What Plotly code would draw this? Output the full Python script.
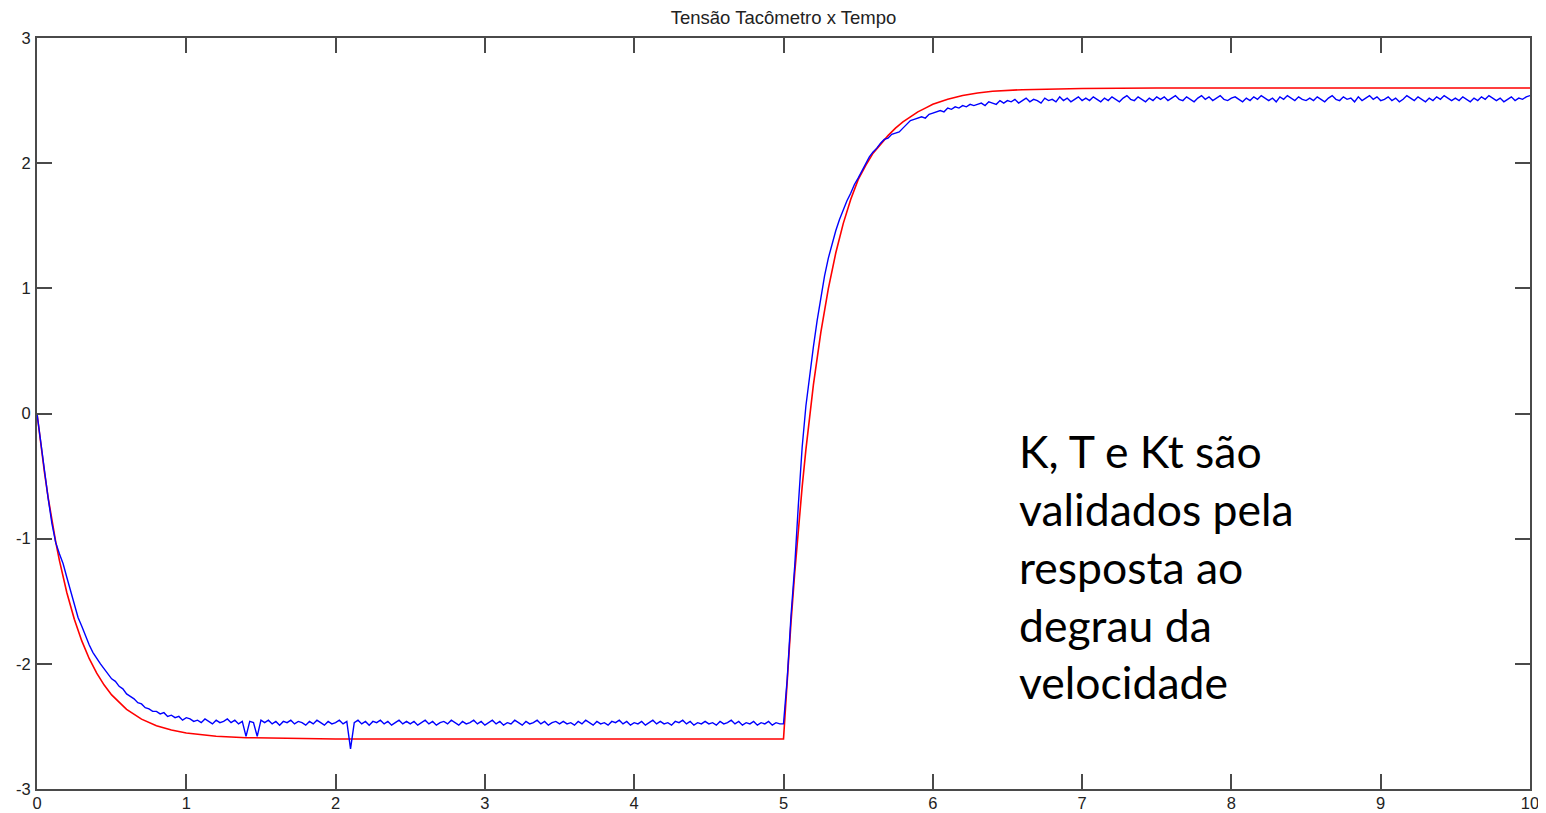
import plotly.graph_objects as go

# ---------------- data ----------------
title_text = "Tensão Tacômetro x Tempo"
note_lines = ["K, T e Kt são", "validados pela", "resposta ao", "degrau da", "velocidade"]

x_ticks = [0, 1, 2, 3, 4, 5, 6, 7, 8, 9, 10]
y_ticks = [-3, -2, -1, 0, 1, 2, 3]

# red: model response
red_t = [0, 0.025, 0.05, 0.075, 0.10, 0.125, 0.15, 0.175, 0.20, 0.25, 0.30, 0.35, 0.40,
         0.45, 0.50, 0.60, 0.70, 0.80, 0.90, 1.00, 1.20, 1.40, 1.70, 2.00, 5.00,
         5.01, 5.02, 5.035, 5.05, 5.075, 5.10, 5.125, 5.15, 5.175, 5.20, 5.25, 5.30,
         5.35, 5.40, 5.45, 5.50, 5.55, 5.60, 5.65, 5.70, 5.75, 5.80, 5.85, 5.90, 5.95,
         6.00, 6.10, 6.20, 6.30, 6.40, 6.60, 6.80, 7.00, 7.50, 10.0]
red_v = [0.0, -0.247, -0.471, -0.674, -0.857, -1.023, -1.173, -1.309, -1.432, -1.643,
         -1.817, -1.959, -2.075, -2.170, -2.248, -2.364, -2.442, -2.494, -2.529, -2.552,
         -2.579, -2.590, -2.597, -2.600, -2.600,
         -2.400, -2.208, -1.935, -1.674, -1.275, -0.914, -0.586, -0.288, -0.018, 0.226,
         0.648, 0.996, 1.282, 1.517, 1.710, 1.868, 1.98, 2.08, 2.15, 2.22, 2.28, 2.33,
         2.37, 2.41, 2.44, 2.47, 2.51, 2.54, 2.56, 2.575, 2.587, 2.594, 2.597, 2.600, 2.600]

# blue: measured tachometer voltage, sampled every 0.025 s
blue_dt = 0.025
blue_fall = [0.00, -0.24, -0.47, -0.68, -0.88, -1.03, -1.12, -1.20, -1.31, -1.42,
             -1.53, -1.63, -1.70, -1.78, -1.85, -1.91, -1.96, -2.00, -2.04, -2.08,
             -2.12, -2.14, -2.18, -2.20, -2.24, -2.26, -2.28, -2.31, -2.32, -2.35,
             -2.36, -2.38, -2.38, -2.40, -2.39, -2.42, -2.41, -2.43, -2.42, -2.45,
             -2.43]
blue_low = [-2.44, -2.46, -2.45, -2.47, -2.44, -2.46, -2.48, -2.45, -2.47, -2.46,
            -2.44, -2.47, -2.45, -2.48, -2.46, -2.58, -2.46, -2.47, -2.58, -2.45,
            -2.47, -2.45, -2.48, -2.46, -2.49, -2.46, -2.47, -2.45, -2.48, -2.46,
            -2.47, -2.49, -2.46, -2.48, -2.45, -2.47, -2.49, -2.46, -2.48, -2.47,
            -2.45, -2.48, -2.46, -2.68, -2.47, -2.45, -2.48, -2.46, -2.49, -2.46,
            -2.47, -2.45, -2.48, -2.46, -2.49, -2.47, -2.45, -2.48, -2.46, -2.48,
            -2.46, -2.49, -2.47, -2.45, -2.48, -2.46, -2.49, -2.47, -2.46, -2.48,
            -2.45, -2.47, -2.49, -2.46, -2.48, -2.47, -2.45, -2.48, -2.46, -2.49,
            -2.47, -2.45, -2.48, -2.46, -2.49, -2.47, -2.48, -2.45, -2.47, -2.49,
            -2.46, -2.48, -2.47, -2.45, -2.48, -2.46, -2.49, -2.47, -2.46, -2.48,
            -2.46, -2.48, -2.47, -2.49, -2.46, -2.48, -2.45, -2.47, -2.49, -2.46,
            -2.48, -2.47, -2.49, -2.46, -2.47, -2.45, -2.48, -2.46, -2.49, -2.47,
            -2.48, -2.46, -2.49, -2.47, -2.45, -2.48, -2.46, -2.48, -2.47, -2.49,
            -2.46, -2.47, -2.45, -2.48, -2.46, -2.49, -2.47, -2.48, -2.46, -2.48,
            -2.47, -2.49, -2.46, -2.48, -2.47, -2.45, -2.48, -2.46, -2.49, -2.47,
            -2.48, -2.46, -2.49, -2.47, -2.48, -2.46, -2.49, -2.47, -2.48]
blue_rise = [-2.48, -2.12, -1.62, -1.22, -0.72, -0.27, 0.06, 0.32, 0.53, 0.74,
             0.94, 1.10, 1.24, 1.36, 1.46, 1.55, 1.63, 1.70, 1.76, 1.83,
             1.88, 1.94, 2.00, 2.05, 2.09, 2.12, 2.16, 2.19, 2.20, 2.23,
             2.24, 2.25, 2.28, 2.31, 2.34, 2.35, 2.36, 2.37, 2.36, 2.39,
             2.40, 2.41, 2.42, 2.41, 2.44, 2.43, 2.45, 2.44, 2.46, 2.45,
             2.47, 2.46, 2.47, 2.48, 2.46, 2.49, 2.48, 2.47, 2.50, 2.48,
             2.50]
blue_high = [2.49, 2.51, 2.48, 2.50, 2.52, 2.49, 2.51, 2.50, 2.48, 2.52,
             2.50, 2.51, 2.49, 2.53, 2.50, 2.52, 2.49, 2.51, 2.53, 2.50,
             2.52, 2.50, 2.53, 2.51, 2.49, 2.52, 2.50, 2.53, 2.51, 2.49,
             2.52, 2.54, 2.51, 2.50, 2.53, 2.51, 2.49, 2.52, 2.50, 2.53,
             2.51, 2.53, 2.50, 2.52, 2.54, 2.51, 2.50, 2.53, 2.51, 2.49,
             2.52, 2.54, 2.51, 2.53, 2.50, 2.52, 2.54, 2.51, 2.50, 2.52,
             2.53, 2.51, 2.49, 2.52, 2.50, 2.53, 2.51, 2.54, 2.52, 2.50,
             2.52, 2.49, 2.53, 2.51, 2.54, 2.52, 2.50, 2.53, 2.51, 2.50,
             2.52, 2.50, 2.53, 2.51, 2.49, 2.52, 2.54, 2.51, 2.50, 2.53,
             2.51, 2.52, 2.49, 2.53, 2.50, 2.52, 2.54, 2.51, 2.53, 2.50,
             2.51, 2.53, 2.50, 2.52, 2.49, 2.51, 2.54, 2.52, 2.50, 2.53,
             2.51, 2.49, 2.52, 2.50, 2.53, 2.51, 2.54, 2.52, 2.50, 2.52,
             2.50, 2.53, 2.51, 2.49, 2.52, 2.50, 2.53, 2.51, 2.54, 2.52,
             2.50, 2.52, 2.49, 2.51, 2.53, 2.50, 2.52, 2.51, 2.53, 2.54]

blue_v = blue_fall + blue_low + blue_rise + blue_high
blue_t = [round(i * blue_dt, 3) for i in range(len(blue_v))]

# ---------------- figure ----------------
# the page body has an 8px margin, so the figure is 8px smaller and its margins 8px tighter
fig = go.Figure()
fig.add_trace(go.Scatter(x=red_t, y=red_v, mode="lines",
                         line=dict(color="#ff0000", width=1.6), showlegend=False))
fig.add_trace(go.Scatter(x=blue_t, y=blue_v, mode="lines",
                         line=dict(color="#0000ff", width=1.4), showlegend=False))

axis_common = dict(
    showgrid=False, zeroline=False, showline=True, mirror="ticks",
    linecolor="#4a4a4a", linewidth=2, automargin=False,
    ticks="inside", ticklen=15, tickwidth=1.6, tickcolor="#4a4a4a",
    tickfont=dict(family="Liberation Sans, Arial, sans-serif", size=16.5, color="#222222"),
)

fig.update_xaxes(range=[0, 10], tickvals=x_ticks, ticktext=[str(v) for v in x_ticks],
                 ticklabelstandoff=-2, **axis_common)
fig.update_yaxes(range=[-3, 3], tickvals=y_ticks, ticktext=[str(v) for v in y_ticks],
                 ticklabelstandoff=1, **axis_common)

fig.add_annotation(
    x=6.564, y=-1.22, xref="x", yref="y", xanchor="left", yanchor="middle",
    align="left", showarrow=False,
    text="<br>".join(note_lines),
    font=dict(family="Lato, Noto Sans, sans-serif", size=44.5, color="#000000"),
)

fig.update_layout(
    width=1538, height=805,
    margin=dict(l=29, r=16, t=30, b=24, autoexpand=False),
    paper_bgcolor="white", plot_bgcolor="white",
    title=dict(text=title_text, x=775.5 / 1538, xanchor="center",
               y=1 - 10 / 805, yref="container", yanchor="middle", automargin=False,
               font=dict(family="Liberation Sans, Arial, sans-serif", size=18.5, color="#222222")),
)

fig.write_html("out.html")
